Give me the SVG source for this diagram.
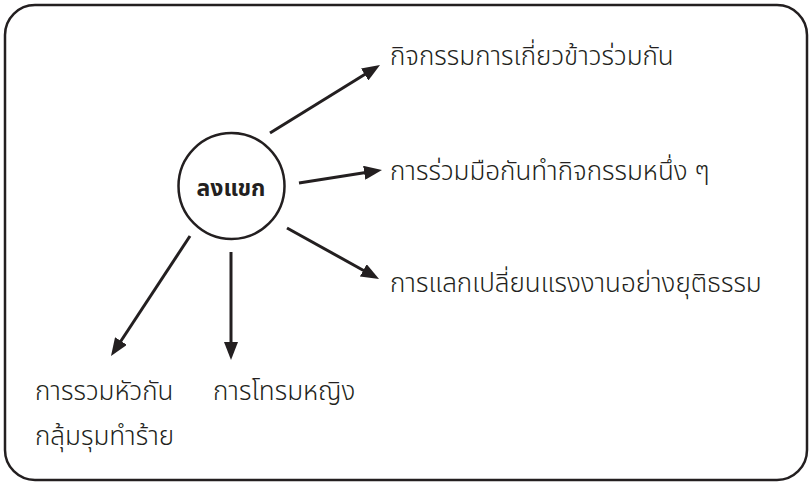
<svg xmlns="http://www.w3.org/2000/svg" width="810" height="482" viewBox="0 0 810 482">
<defs>
<marker id="ah" markerWidth="18" markerHeight="14" refX="8" refY="7" orient="auto" markerUnits="userSpaceOnUse" viewBox="0 0 18 14">
<path d="M0,0 L18,7 L0,14 Z" fill="#231f20"/>
</marker>
<style>
.lbl{font-family:"Noto Sans Thai","Noto Sans","DejaVu Sans",sans-serif;font-size:26px;font-weight:300;fill:#231f20}
.ctr{font-family:"Noto Sans Thai","Noto Sans","DejaVu Sans",sans-serif;font-size:23px;font-weight:bold;fill:#231f20}
.edge{stroke:#231f20;stroke-width:3;fill:none}
</style>
</defs>
<rect x="5" y="5" width="802" height="475" rx="30" ry="30" fill="#fff" stroke="#231f20" stroke-width="2.5"/>
<g id="center">
<circle cx="231.5" cy="186" r="53" fill="none" stroke="#231f20" stroke-width="2.5"/>
<text class="ctr" x="231" y="196" text-anchor="middle">ลงแขก</text>
</g>
<g id="connectors">
<line class="edge" x1="270" y1="133" x2="371.5" y2="70.3" marker-end="url(#ah)"/>
<line class="edge" x1="299" y1="183" x2="372.1" y2="171.5" marker-end="url(#ah)"/>
<line class="edge" x1="287" y1="228" x2="370.3" y2="274.2" marker-end="url(#ah)"/>
<line class="edge" x1="190" y1="236" x2="116.5" y2="347.7" marker-end="url(#ah)"/>
<line class="edge" x1="231" y1="252" x2="231" y2="350" marker-end="url(#ah)"/>
</g>
<g id="n1"><text class="lbl" x="390" y="65">กิจกรรมการเกี่ยวข้าวร่วมกัน</text></g>
<g id="n2"><text class="lbl" x="390" y="180">การร่วมมือกันทำกิจกรรมหนึ่ง ๆ</text></g>
<g id="n3"><text class="lbl" x="390" y="292">การแลกเปลี่ยนแรงงานอย่างยุติธรรม</text></g>
<g id="n4"><text class="lbl" x="35" y="400">การรวมหัวกัน</text><text class="lbl" x="35" y="445">กลุ้มรุมทำร้าย</text></g>
<g id="n5"><text class="lbl" x="213" y="400">การโทรมหญิง</text></g>
</svg>
